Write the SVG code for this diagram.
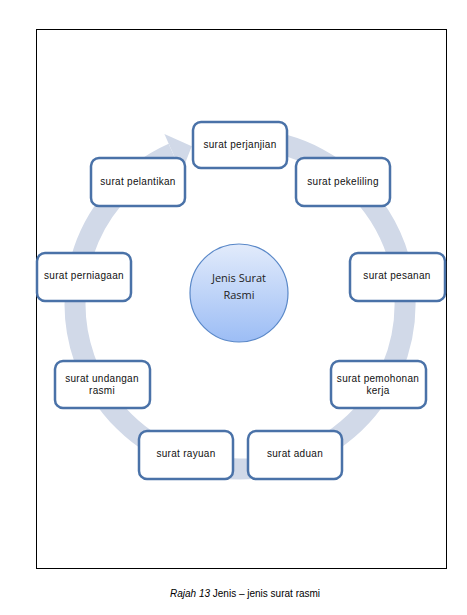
<svg xmlns="http://www.w3.org/2000/svg" width="467" height="615" viewBox="0 0 467 615">
<defs>
<linearGradient id="g" x1="0" y1="0" x2="0" y2="1">
<stop offset="0" stop-color="#e2ebfb"/>
<stop offset="1" stop-color="#9cbdf5"/>
</linearGradient>
<style>
.box{fill:#fff;stroke:#4a72a8;stroke-width:2.5}
.t{font-family:"Liberation Sans",Arial,sans-serif;font-size:10px;fill:#111;text-anchor:middle;letter-spacing:0.3px}
.c{font-family:"Open Sans","Liberation Sans",sans-serif;font-size:11px;fill:#222;text-anchor:middle}
.cap{font-family:"Liberation Sans",Arial,sans-serif;font-size:10px;fill:#000}
</style>
</defs>
<rect width="467" height="615" fill="#fff"/>
<rect x="36.5" y="29.5" width="410" height="539" fill="none" stroke="#000" stroke-width="1"/>
<g id="connectors">
<path d="M245.8,139.1 A165,165 0 1 1 172.9,153.3" fill="none" stroke="#d1d9e8" stroke-width="21"/>
<polygon points="164.4,134.1 191.8,146.2 181.4,172.5" fill="#d1d9e8"/>
</g>
<g id="center">
<circle cx="239" cy="293" r="49" fill="url(#g)" stroke="#5a88c8" stroke-width="1.2"/>
<text class="c" x="239" y="282">Jenis Surat</text>
<text class="c" x="239" y="299">Rasmi</text>
</g>
<g id="perjanjian"><rect class="box" x="193" y="122" width="94" height="46" rx="8"/><text class="t" x="240" y="148">surat perjanjian</text></g>
<g id="pelantikan"><rect class="box" x="91" y="158" width="94" height="48" rx="8"/><text class="t" x="138" y="185">surat pelantikan</text></g>
<g id="pekeliling"><rect class="box" x="296" y="158" width="94" height="48" rx="8"/><text class="t" x="343" y="185">surat pekeliling</text></g>
<g id="perniagaan"><rect class="box" x="37" y="253" width="94" height="48" rx="8"/><text class="t" x="84" y="279">surat perniagaan</text></g>
<g id="pesanan"><rect class="box" x="350" y="253" width="95" height="48" rx="8"/><text class="t" x="397" y="279">surat pesanan</text></g>
<g id="undangan"><rect class="box" x="55" y="361" width="95" height="47" rx="8"/><text class="t" x="102" y="382">surat undangan</text><text class="t" x="102" y="394">rasmi</text></g>
<g id="pemohonan"><rect class="box" x="331" y="361" width="95" height="47" rx="8"/><text class="t" x="378" y="382">surat pemohonan</text><text class="t" x="378" y="394">kerja</text></g>
<g id="rayuan"><rect class="box" x="139" y="431" width="94" height="48" rx="8"/><text class="t" x="186" y="457">surat rayuan</text></g>
<g id="aduan"><rect class="box" x="248" y="431" width="94" height="48" rx="8"/><text class="t" x="295" y="457">surat aduan</text></g>
<text class="cap" x="170" y="597"><tspan font-style="italic">Rajah 13</tspan> Jenis – jenis surat rasmi</text>
</svg>
